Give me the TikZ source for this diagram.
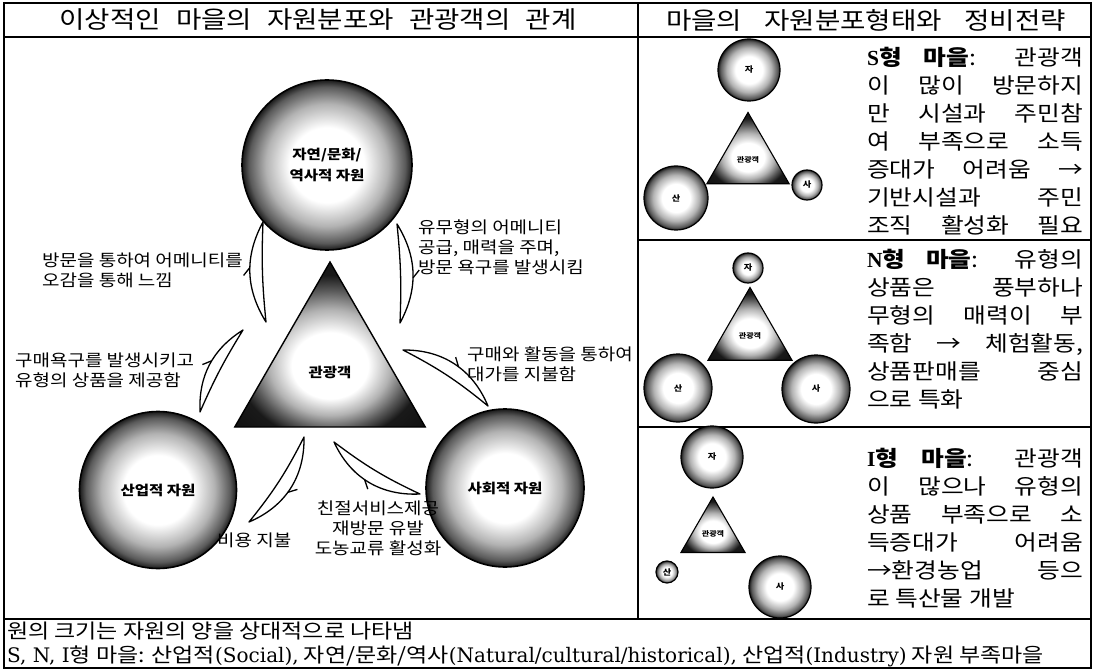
\documentclass[tikz,border=0pt]{standalone}
\usepackage{fontspec}
\setmainfont[FakeStretch=1.15]{Noto Sans CJK KR}
\newfontfamily\lat{Liberation Serif}
\newfontfamily\latw{DejaVu Serif}
\usetikzlibrary{shapes.geometric,decorations.markings}

\pgfdeclareradialshading{orbshade}{\pgfpoint{0bp}{0bp}}{%
  color(0bp)=(white); color(11bp)=(white); color(18bp)=(black!30);
  color(23bp)=(black!65); color(25bp)=(black!90); color(50bp)=(black!90)}
\pgfdeclareradialshading{pyrshade}{\pgfpoint{0bp}{-8bp}}{%
  color(0bp)=(white); color(10bp)=(white); color(16bp)=(black!30);
  color(21bp)=(black!65); color(25bp)=(black!90); color(50bp)=(black)}

\newcommand{\jl}[1]{\makebox[216pt][s]{#1}}

\begin{document}
\begin{tikzpicture}[x=1pt, y=1pt,
  orb/.style={circle, draw=black, line width=1.6pt, shade, shading=orbshade,
              inner sep=0pt, align=center, font=\fontsize{13.5}{21}\selectfont\bfseries},
  orbs/.style={orb, line width=1.2pt, font=\fontsize{8}{9}\selectfont\bfseries},
  pyr/.style={regular polygon, regular polygon sides=3, draw=black, line width=1.4pt,
              shade, shading=pyrshade, inner sep=0pt, font=\fontsize{13.5}{16}\selectfont\bfseries},
  pyrs/.style={pyr, line width=1.1pt, font=\fontsize{7}{8}\selectfont\bfseries},
  note/.style={inner sep=0pt, align=left, font=\fontsize{16.5}{20}\selectfont},
  para/.style={anchor=north west, inner sep=0pt, align=left, font=\fontsize{21.5}{28}\selectfont},
  ttl/.style={inner sep=0pt, font=\fontsize{24}{30}\selectfont},
  leaf/.style={draw=black, line width=1.3pt, fill=white, line join=round,
               postaction={decorate}, decoration={markings, mark=at position 0.28 with
               {\draw[line width=1.3pt] (0,0) -- (-8pt,6pt);}}},
  frame/.style={line width=1.6pt},
]
\useasboundingbox (0,0) rectangle (1095,-671);

% frame and titles
\draw[frame] (4,-3) rectangle (1091,-668);
\draw[frame] (4,-37) -- (1091,-37);
\draw[frame] (638,-3) -- (638,-619);
\draw[frame] (638,-240) -- (1091,-240);
\draw[frame] (638,-427) -- (1091,-427);
\draw[frame] (4,-619) -- (1091,-619);
\node[ttl] (ttlL) at (318,-20) {\makebox[517pt][s]{이상적인 마을의 자원분포와 관광객의 관계}};
\node[ttl] (ttlR) at (866,-20) {\makebox[400pt][s]{마을의 자원분포형태와 정비전략}};

% ideal village
\node[orb, minimum size=170pt] (nat) at (327,-165) {자연/문화/\\역사적 자원};
\node[orb, minimum size=157pt] (ind) at (158,-490) {산업적 자원};
\node[orb, minimum size=158pt] (soc) at (505,-488) {사회적 자원};
\node[pyr, minimum size=220pt] (tour) at (330,-372) {관광객};

\coordinate (a1s) at (266,-322); \coordinate (a1e) at (263,-222);
\coordinate (a2s) at (397,-224); \coordinate (a2e) at (400,-323);
\coordinate (a3s) at (200,-412); \coordinate (a3e) at (243,-330);
\coordinate (a4s) at (403,-350); \coordinate (a4e) at (488,-406);
\coordinate (a5s) at (304,-437); \coordinate (a5e) at (249,-522);
\coordinate (a6s) at (420,-494); \coordinate (a6e) at (334,-442);
\draw[leaf] (a1s) to[bend left=30] (a1e) to[bend right=4] (a1s) -- cycle;
\draw[leaf] (a2s) to[bend left=30] (a2e) to[bend right=4] (a2s) -- cycle;
\draw[leaf] (a3s) to[bend left=30] (a3e) to[bend right=4] (a3s) -- cycle;
\draw[leaf] (a4s) to[bend left=34] (a4e) to[bend right=6] (a4s) -- cycle;
\draw[leaf] (a5s) to[bend left=34] (a5e) to[bend right=6] (a5s) -- cycle;
\draw[leaf] (a6s) to[bend left=34] (a6e) to[bend right=6] (a6s) -- cycle;

\node[note, anchor=west] (nt1) at (418,-247) {유무형의 어메니티\\공급, 매력을 주며,\\방문 욕구를 발생시킴};
\node[note, anchor=west] (nt2) at (42,-270) {방문을 통하여 어메니티를\\오감을 통해 느낌};
\node[note, anchor=west] (nt3) at (15,-370) {구매욕구를 발생시키고\\유형의 상품을 제공함};
\node[note, anchor=west] (nt4) at (467,-364) {구매와 활동을 통하여\\대가를 지불함};
\node[note, align=center] (nt5) at (378,-528) {친절서비스제공\\재방문 유발\\도농교류 활성화};
\node[note, anchor=west] (nt6) at (217,-540) {비용 지불};

% S type
\node[orbs, minimum size=62pt] (sNat) at (749,-70) {자};
\node[pyrs, minimum size=95pt] (sTour) at (748,-160) {관광객};
\node[orbs, minimum size=30pt] (sSoc) at (807,-185) {사};
\node[orbs, minimum size=64pt] (sInd) at (676,-198) {산};
\node[para] (sTxt) at (867,-47) {%
  \jl{{\bfseries\lat S}{\bfseries 형 마을}: 관광객}\\
  \jl{이 많이 방문하지}\\
  \jl{만 시설과 주민참}\\
  \jl{여 부족으로 소득}\\
  \jl{증대가 어려움 →}\\
  \jl{기반시설과 주민}\\
  \jl{조직 활성화 필요}};

% N type
\node[orbs, minimum size=30pt] (nNat) at (748,-268) {자};
\node[pyrs, minimum size=97pt] (nTour) at (750,-336) {관광객};
\node[orbs, minimum size=68pt] (nSoc) at (816,-389) {사};
\node[orbs, minimum size=68pt] (nInd) at (678,-388) {산};
\node[para] (nTxt) at (867,-249) {%
  \jl{{\bfseries\lat N}{\bfseries 형 마을}: 유형의}\\
  \jl{상품은 풍부하나}\\
  \jl{무형의 매력이 부}\\
  \jl{족함 → 체험활동,}\\
  \jl{상품판매를 중심}\\
  으로 특화};

% I type
\node[orbs, minimum size=62pt] (iNat) at (712,-457) {자};
\node[pyrs, minimum size=74pt] (iTour) at (713,-534) {관광객};
\node[orbs, minimum size=62pt] (iSoc) at (780,-587) {사};
\node[orbs, minimum size=22pt] (iInd) at (667,-572) {산};
\node[para] (iTxt) at (867,-448) {%
  \jl{{\bfseries\lat I}{\bfseries 형 마을}: 관광객}\\
  \jl{이 많으나 유형의}\\
  \jl{상품 부족으로 소}\\
  \jl{득증대가 어려움}\\
  \jl{→환경농업 등으}\\
  로 특산물 개발};

% legend
\node[anchor=west, inner sep=0pt, align=left, font=\fontsize{20}{24}\selectfont] (foot) at (7,-644) {%
  원의 크기는 자원의 양을 상대적으로 나타냄\\
  {\latw S, N, I}형 마을: 산업적{\latw (Social),} 자연/문화/역사{\latw (Natural/cultural/historical),} 산업적{\latw (Industry)} 자원 부족마을};
\end{tikzpicture}
\end{document}
